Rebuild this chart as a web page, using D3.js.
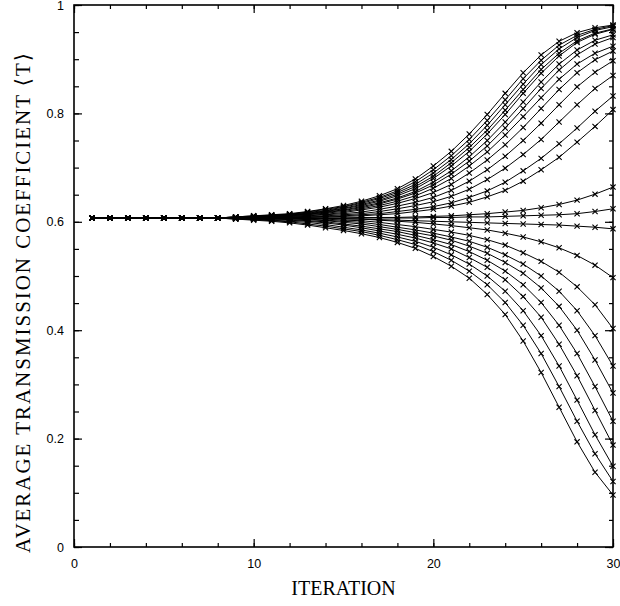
<!DOCTYPE html>
<html>
<head>
<meta charset="utf-8">
<script src="https://cdn.jsdelivr.net/npm/d3@7"></script>
<style>
  body { margin: 0; background: #fff; }
  svg { display: block; }
</style>
</head>
<body>
<div id="chart"></div>
<script>
// iteration numbers (x values of every marker)
const iterations = [1, 2, 3, 4, 5, 6, 7, 8, 9, 10, 11, 12, 13, 14, 15, 16, 17, 18, 19, 20, 21, 22, 23, 24, 25, 26, 27, 28, 29, 30];

// tick labels
const xTickValues = [0, 10, 20, 30];
const yTickValues = [0, 0.2, 0.4, 0.6, 0.8, 1];
const yTickLabels = ["0", "0.2", "0.4", "0.6", "0.8", "1"];

// curves that rise towards ~0.96
const upperCurves = [
  [0.607, 0.607, 0.607, 0.607, 0.607, 0.607, 0.607, 0.607, 0.609, 0.611, 0.613, 0.615, 0.619, 0.624, 0.630, 0.638, 0.648, 0.661, 0.679, 0.703, 0.730, 0.762, 0.798, 0.837, 0.875, 0.908, 0.933, 0.949, 0.958, 0.963],
  [0.607, 0.607, 0.607, 0.607, 0.607, 0.607, 0.607, 0.607, 0.609, 0.611, 0.612, 0.614, 0.618, 0.623, 0.628, 0.636, 0.645, 0.657, 0.674, 0.696, 0.722, 0.752, 0.787, 0.825, 0.864, 0.898, 0.926, 0.944, 0.955, 0.962],
  [0.607, 0.607, 0.607, 0.607, 0.607, 0.607, 0.607, 0.607, 0.609, 0.610, 0.612, 0.614, 0.617, 0.621, 0.627, 0.634, 0.643, 0.654, 0.669, 0.690, 0.715, 0.744, 0.778, 0.816, 0.854, 0.890, 0.919, 0.940, 0.953, 0.960],
  [0.607, 0.607, 0.607, 0.607, 0.607, 0.607, 0.607, 0.607, 0.609, 0.610, 0.611, 0.613, 0.616, 0.620, 0.625, 0.632, 0.640, 0.651, 0.665, 0.684, 0.709, 0.737, 0.769, 0.806, 0.844, 0.881, 0.911, 0.934, 0.948, 0.956],
  [0.607, 0.607, 0.607, 0.607, 0.607, 0.607, 0.607, 0.607, 0.608, 0.610, 0.611, 0.613, 0.615, 0.619, 0.624, 0.630, 0.638, 0.648, 0.661, 0.680, 0.703, 0.730, 0.762, 0.798, 0.837, 0.874, 0.906, 0.931, 0.946, 0.955],
  [0.607, 0.607, 0.607, 0.607, 0.607, 0.607, 0.607, 0.607, 0.608, 0.609, 0.611, 0.612, 0.614, 0.618, 0.622, 0.628, 0.635, 0.644, 0.656, 0.673, 0.694, 0.720, 0.750, 0.784, 0.821, 0.858, 0.891, 0.917, 0.935, 0.945],
  [0.607, 0.607, 0.607, 0.607, 0.607, 0.607, 0.607, 0.607, 0.608, 0.609, 0.610, 0.612, 0.614, 0.617, 0.621, 0.626, 0.633, 0.642, 0.653, 0.668, 0.688, 0.712, 0.740, 0.773, 0.809, 0.846, 0.880, 0.908, 0.928, 0.940],
  [0.607, 0.607, 0.607, 0.607, 0.607, 0.607, 0.607, 0.607, 0.608, 0.609, 0.610, 0.611, 0.613, 0.616, 0.619, 0.624, 0.630, 0.638, 0.648, 0.662, 0.680, 0.703, 0.729, 0.760, 0.794, 0.829, 0.863, 0.891, 0.911, 0.924],
  [0.607, 0.607, 0.607, 0.607, 0.607, 0.607, 0.607, 0.607, 0.608, 0.608, 0.609, 0.610, 0.612, 0.614, 0.617, 0.622, 0.627, 0.634, 0.643, 0.654, 0.669, 0.690, 0.714, 0.742, 0.774, 0.809, 0.844, 0.875, 0.899, 0.915],
  [0.607, 0.607, 0.607, 0.607, 0.607, 0.607, 0.607, 0.607, 0.608, 0.608, 0.609, 0.610, 0.611, 0.613, 0.615, 0.618, 0.623, 0.629, 0.636, 0.645, 0.658, 0.675, 0.696, 0.721, 0.750, 0.782, 0.816, 0.849, 0.876, 0.897],
  [0.607, 0.607, 0.607, 0.607, 0.607, 0.607, 0.607, 0.607, 0.608, 0.608, 0.608, 0.609, 0.610, 0.611, 0.613, 0.615, 0.619, 0.624, 0.630, 0.637, 0.647, 0.660, 0.678, 0.699, 0.724, 0.752, 0.784, 0.816, 0.846, 0.870],
  [0.607, 0.607, 0.607, 0.607, 0.607, 0.607, 0.607, 0.607, 0.607, 0.607, 0.608, 0.608, 0.609, 0.610, 0.611, 0.613, 0.615, 0.619, 0.623, 0.628, 0.635, 0.645, 0.657, 0.673, 0.694, 0.717, 0.744, 0.773, 0.804, 0.832],
  [0.607, 0.607, 0.607, 0.607, 0.607, 0.607, 0.607, 0.607, 0.607, 0.607, 0.607, 0.608, 0.608, 0.609, 0.610, 0.611, 0.613, 0.615, 0.619, 0.623, 0.629, 0.636, 0.646, 0.658, 0.675, 0.696, 0.719, 0.747, 0.776, 0.807]
];

// curves that stay close to the starting value
const middleCurves = [
  [0.607, 0.607, 0.607, 0.607, 0.607, 0.607, 0.607, 0.607, 0.607, 0.607, 0.607, 0.607, 0.607, 0.607, 0.607, 0.608, 0.608, 0.608, 0.609, 0.610, 0.611, 0.613, 0.615, 0.618, 0.621, 0.626, 0.632, 0.640, 0.651, 0.664],
  [0.607, 0.607, 0.607, 0.607, 0.607, 0.607, 0.607, 0.607, 0.607, 0.607, 0.607, 0.607, 0.607, 0.607, 0.607, 0.607, 0.607, 0.607, 0.607, 0.608, 0.608, 0.609, 0.609, 0.610, 0.611, 0.612, 0.613, 0.615, 0.619, 0.624],
  [0.607, 0.607, 0.607, 0.607, 0.607, 0.607, 0.607, 0.607, 0.607, 0.607, 0.607, 0.607, 0.606, 0.606, 0.606, 0.605, 0.604, 0.603, 0.602, 0.601, 0.600, 0.599, 0.598, 0.597, 0.596, 0.595, 0.594, 0.592, 0.590, 0.587]
];

// curves that fall away
const lowerCurves = [
  [0.607, 0.607, 0.607, 0.607, 0.607, 0.607, 0.607, 0.607, 0.607, 0.607, 0.607, 0.607, 0.606, 0.606, 0.605, 0.605, 0.603, 0.601, 0.599, 0.596, 0.593, 0.589, 0.585, 0.579, 0.572, 0.563, 0.552, 0.538, 0.520, 0.497],
  [0.607, 0.607, 0.607, 0.607, 0.607, 0.607, 0.607, 0.607, 0.607, 0.607, 0.606, 0.606, 0.606, 0.605, 0.603, 0.602, 0.599, 0.595, 0.591, 0.586, 0.581, 0.575, 0.567, 0.557, 0.543, 0.527, 0.507, 0.480, 0.447, 0.403],
  [0.607, 0.607, 0.607, 0.607, 0.607, 0.607, 0.607, 0.607, 0.607, 0.606, 0.606, 0.606, 0.605, 0.603, 0.601, 0.599, 0.595, 0.590, 0.585, 0.579, 0.572, 0.564, 0.553, 0.539, 0.522, 0.500, 0.472, 0.436, 0.390, 0.334],
  [0.607, 0.607, 0.607, 0.607, 0.607, 0.607, 0.607, 0.607, 0.606, 0.606, 0.606, 0.605, 0.604, 0.602, 0.599, 0.596, 0.591, 0.586, 0.580, 0.574, 0.566, 0.555, 0.542, 0.525, 0.505, 0.478, 0.444, 0.400, 0.345, 0.284],
  [0.607, 0.607, 0.607, 0.607, 0.607, 0.607, 0.607, 0.607, 0.606, 0.606, 0.605, 0.604, 0.602, 0.600, 0.596, 0.592, 0.587, 0.582, 0.575, 0.567, 0.558, 0.545, 0.529, 0.509, 0.484, 0.451, 0.409, 0.357, 0.296, 0.232],
  [0.607, 0.607, 0.607, 0.607, 0.607, 0.607, 0.607, 0.607, 0.606, 0.605, 0.604, 0.603, 0.601, 0.598, 0.594, 0.589, 0.583, 0.577, 0.570, 0.561, 0.550, 0.534, 0.516, 0.493, 0.462, 0.424, 0.374, 0.316, 0.252, 0.188],
  [0.607, 0.607, 0.607, 0.607, 0.607, 0.607, 0.607, 0.607, 0.606, 0.605, 0.603, 0.601, 0.599, 0.595, 0.590, 0.585, 0.579, 0.572, 0.564, 0.553, 0.539, 0.522, 0.500, 0.472, 0.436, 0.390, 0.334, 0.271, 0.207, 0.149],
  [0.607, 0.607, 0.607, 0.607, 0.607, 0.607, 0.607, 0.607, 0.605, 0.604, 0.602, 0.600, 0.596, 0.592, 0.587, 0.582, 0.575, 0.567, 0.558, 0.545, 0.529, 0.509, 0.484, 0.451, 0.409, 0.357, 0.296, 0.232, 0.172, 0.121],
  [0.607, 0.607, 0.607, 0.607, 0.607, 0.607, 0.607, 0.607, 0.605, 0.603, 0.601, 0.598, 0.594, 0.589, 0.584, 0.578, 0.571, 0.562, 0.551, 0.536, 0.518, 0.496, 0.466, 0.429, 0.380, 0.322, 0.258, 0.194, 0.138, 0.096]
];

const allCurves = upperCurves.concat(middleCurves, lowerCurves);

// ---- layout
const width = 620, height = 606;
const margin = {top: 5, right: 7, bottom: 59, left: 74};
const plotW = width - margin.left - margin.right;
const plotH = height - margin.top - margin.bottom;

const svg = d3.select("#chart").append("svg")
    .attr("width", width)
    .attr("height", height)
    .style("font-family", "'Liberation Sans', Arial, sans-serif");

const g = svg.append("g")
    .attr("transform", `translate(${margin.left},${margin.top})`);

const x = d3.scaleLinear().domain([0, 30]).range([0, plotW]);
const y = d3.scaleLinear().domain([0, 1]).range([plotH, 0]);

// ---- ticks (all pointing inwards)
const minorX = d3.range(0, 31, 2);
const minorY = d3.range(0, 1.0001, 0.05);

function noDomain(sel) { sel.select(".domain").remove(); }

g.append("g").attr("transform", `translate(0,${plotH})`)
    .call(d3.axisBottom(x).tickValues(minorX).tickSize(-4).tickFormat(""))
    .call(noDomain);
g.append("g").attr("class", "xlab").attr("transform", `translate(0,${plotH})`)
    .call(d3.axisBottom(x).tickValues(xTickValues).tickSize(-8).tickPadding(12).tickFormat(d3.format("d")))
    .call(noDomain);

g.append("g")
    .call(d3.axisTop(x).tickValues(minorX).tickSize(-4).tickFormat(""))
    .call(noDomain);
g.append("g")
    .call(d3.axisTop(x).tickValues(xTickValues).tickSize(-8).tickFormat(""))
    .call(noDomain);

g.append("g")
    .call(d3.axisLeft(y).tickValues(minorY).tickSize(-5).tickFormat(""))
    .call(noDomain);
g.append("g").attr("class", "ylab")
    .call(d3.axisLeft(y).tickValues(yTickValues).tickSize(-8).tickPadding(10)
        .tickFormat((d, i) => yTickLabels[i]))
    .call(noDomain);

g.append("g").attr("transform", `translate(${plotW},0)`)
    .call(d3.axisRight(y).tickValues(minorY).tickSize(-4).tickFormat(""))
    .call(noDomain);
g.append("g").attr("transform", `translate(${plotW},0)`)
    .call(d3.axisRight(y).tickValues(yTickValues).tickSize(-8).tickFormat(""))
    .call(noDomain);

g.selectAll(".tick line").attr("stroke", "#000").attr("stroke-width", 1.2);
g.selectAll(".xlab text, .ylab text")
    .attr("fill", "#000")
    .style("font-size", "12.5px")
    .style("font-family", "'Liberation Sans', Arial, sans-serif");

// frame
g.append("rect")
    .attr("x", 0).attr("y", 0)
    .attr("width", plotW).attr("height", plotH)
    .attr("fill", "none")
    .attr("stroke", "#000")
    .attr("stroke-width", 1.6);

// ---- curves
const line = d3.line()
    .x((d, i) => x(iterations[i]))
    .y(d => y(d));

g.append("g").selectAll("path")
    .data(allCurves)
    .join("path")
    .attr("d", line)
    .attr("fill", "none")
    .attr("stroke", "#000")
    .attr("stroke-width", 1);

// cross markers at every iteration
const markerGroups = g.append("g").selectAll("g")
    .data(allCurves)
    .join("g");

markerGroups.selectAll("path")
    .data(d => d.map((v, i) => [iterations[i], v]))
    .join("path")
    .attr("transform", d => `translate(${x(d[0])},${y(d[1])})`)
    .attr("d", "M-2.6,-2.6L2.6,2.6M-2.6,2.6L2.6,-2.6")
    .attr("stroke", "#000")
    .attr("stroke-width", 1.1);

// ---- axis titles
svg.append("text")
    .attr("x", margin.left + plotW / 2)
    .attr("y", 595)
    .attr("text-anchor", "middle")
    .style("font-family", "'Liberation Serif', 'Times New Roman', serif")
    .style("font-size", "20px")
    .text("ITERATION");

svg.append("text")
    .attr("transform", "translate(30,303) rotate(-90)")
    .attr("text-anchor", "middle")
    .attr("textLength", 500)
    .attr("lengthAdjust", "spacing")
    .style("font-family", "'Liberation Serif', 'DejaVu Serif', 'Times New Roman', serif")
    .style("font-size", "21px")
    .text("AVERAGE TRANSMISSION COEFFICIENT \u27E8T\u27E9");
</script>
</body>
</html>
